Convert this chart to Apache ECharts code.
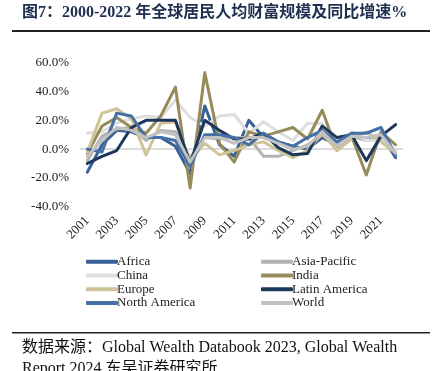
<!DOCTYPE html>
<html><head><meta charset="utf-8">
<script src="https://cdn.jsdelivr.net/npm/echarts@6/dist/echarts.min.js"></script>
<style>html,body{margin:0;padding:0;background:#fff}#c{width:434px;height:371px}</style>
</head><body><div id="c"></div>
<script>
const years = ['2001','2002','2003','2004','2005','2006','2007','2008','2009','2010','2011','2012','2013','2014','2015','2016','2017','2018','2019','2020','2021','2022'];
const yTicks = [-40, -20, 0, 20, 40, 60];
const africa       = [-16, 3, 13, 12, 8, 8, 2, -17, 30, 3, -5, 20, 8, 5, 2, 0, 8, 3, 9, 7, 10, -6];
const asiaPacific  = [-8, 9, 14, 15, 6, 13, 12, -6, 8, 7, 8, 8, -5, -5, -1, 3, 10, 2, 9, 6, 8, -2];
const china        = [11, 12, 18, 21, 23, 22, 34, 22, 16, 23, 24, 11, 19, 12, 6, 18, 18, 2, 12, 6, 6, -1];
const india        = [-3, 16, 22, 15, 11, 23, 43, -27, 53, 4, -9, 12, 9, 12, 15, 7, 27, -1, 9, -18, 12, 3];
const europe       = [-2, 25, 28, 21, -4, 18, 19, -8, 4, -4, -1, 3, 5, -1, -6, -1, 11, -1, 7, 12, 5, -3];
const latinAmerica = [-10, -5, -1, 15, 20, 20, 20, -10, 20, 13, 7, 7, 11, 1, -4, -3, 16, 8, 10, -8, 9, 17];
const northAmerica = [0, -2, 25, 23, 8, 8, 6, -12, 10, 10, 8, 3, 11, 5, 2, 8, 13, 5, 11, 11, 15, -4];
const world        = [-5, 6, 15, 13, 8, 12, 10, -9, 8, 8, 4, 8, 8, 4, 0, 2, 12, 2, 9, 8, 10, -3];

const names = ['Africa','Asia-Pacific','China','India','Europe','Latin America','North America','World'];
const dataArr = [africa, asiaPacific, china, india, europe, latinAmerica, northAmerica, world];
const colors = ['#3a6195','#b3b3b3','#dedede','#968b59','#cfc398','#1c365c','#4570a6','#c2c2c2'];

const serif = '"Liberation Serif","Noto Sans CJK SC",serif';
const series = names.map((n, i) => ({
  name: n, type: 'line', data: dataArr[i], symbol: 'none',
  lineStyle: { width: 3, color: colors[i], cap: 'round', join: 'round' },
  itemStyle: { color: colors[i] }, z: 3
}));
series[0].markLine = {
  silent: true, symbol: 'none', label: { show: false },
  lineStyle: { color: '#dcdcdc', width: 2, type: 'solid' },
  data: [{ yAxis: 0 }], z: 1
};

const chart = echarts.init(document.getElementById('c'));
const legendCommon = {
  orient: 'vertical', itemWidth: 32, itemHeight: 4, itemGap: 0, icon: 'roundRect',
  textStyle: { fontFamily: serif, fontSize: 13, color: '#222', lineHeight: 13.7, padding: [0,0,0,-6] }
};
chart.setOption({
  animation: false,
  grid: { left: 80, right: 31, top: 62.7, bottom: 164.3 },
  xAxis: {
    type: 'category', data: years, boundaryGap: true,
    axisLine: { show: false }, axisTick: { show: false },
    axisLabel: { interval: 1, rotate: 45, margin: 12, fontFamily: serif, fontSize: 13, color: '#222' }
  },
  yAxis: {
    type: 'value', min: yTicks[0], max: yTicks[yTicks.length-1], interval: 20,
    axisLine: { show: false }, axisTick: { show: false }, splitLine: { show: false },
    axisLabel: { margin: 11, fontFamily: serif, fontSize: 13, color: '#222',
      formatter: v => v.toFixed(1) + '%' }
  },
  legend: [
    Object.assign({ left: 81, top: 250, data: ['Africa','China','Europe','North America'] }, legendCommon),
    Object.assign({ left: 256, top: 250, data: ['Asia-Pacific','India','Latin America','World'] }, legendCommon)
  ],
  graphic: [
    { type: 'text', left: 22, top: 5, style: { text: '图7：2000-2022 年全球居民人均财富规模及同比增速%', fontFamily: serif, fontWeight: 'bold', fontSize: 16, fill: '#1f2f4f' } },
    { type: 'rect', shape: { x: 12, y: 30, width: 418, height: 2 }, style: { fill: '#222' } },
    { type: 'rect', shape: { x: 12, y: 332, width: 418, height: 1.5 }, style: { fill: '#222' } },
    { type: 'text', left: 22, top: 340, style: { text: '数据来源：Global Wealth Databook 2023, Global Wealth', fontFamily: serif, fontSize: 16, fill: '#111' } },
    { type: 'text', left: 22, top: 361, style: { text: 'Report 2024,东吴证券研究所', fontFamily: serif, fontSize: 16, fill: '#111' } }
  ],
  series: series
});
</script></body></html>
